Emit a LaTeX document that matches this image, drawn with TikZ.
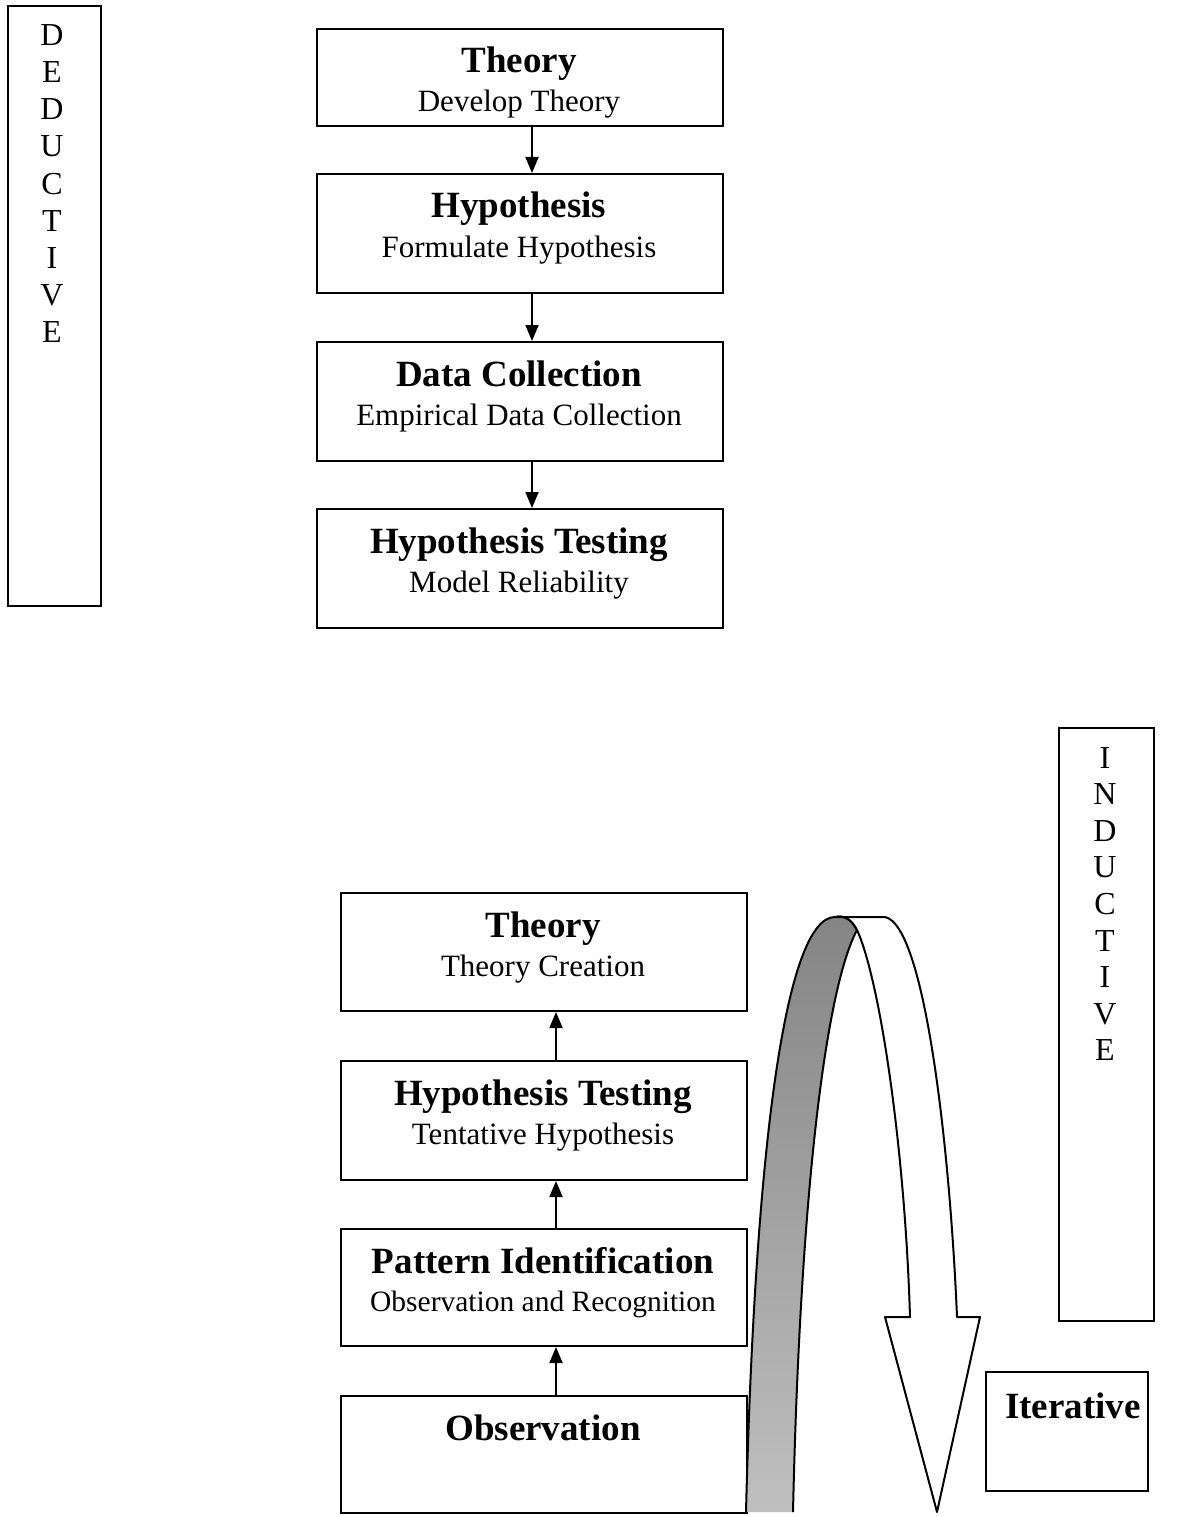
\documentclass[tikz,border=0pt]{standalone}
\usepackage{fontspec}
\setmainfont{Liberation Serif}
\usetikzlibrary{arrows.meta}
\begin{document}
\begin{tikzpicture}[x=1pt,y=-1pt,
  box/.style={draw,line width=2pt,anchor=north west,inner sep=0pt},
  ttl/.style={anchor=base,font=\bfseries\fontsize{37}{40}\selectfont},
  sub/.style={anchor=base,font=\fontsize{31}{34}\selectfont},
  vletter/.style={anchor=base,font=\fontsize{32}{36}\selectfont},
  arr/.style={line width=1.8pt,-{Triangle[length=16pt,width=13pt]}},
  ribbon/.style={line width=2pt,line join=round}]
\useasboundingbox (0,0) rectangle (1177,1517);

% side bars
\node[box,minimum width=93pt,minimum height=600pt] (dedbar) at (7,5) {};
\foreach \c [count=\i] in {D,E,D,U,C,T,I,V,E}
  \node[vletter] (ded\i) at (52,{46+37*(\i-1)}) {\c};
\node[box,minimum width=95pt,minimum height=593pt] (indbar) at (1058,727) {};
\foreach \c [count=\i] in {I,N,D,U,C,T,I,V,E}
  \node[vletter] (ind\i) at (1105,{768+36.6*(\i-1)}) {\c};

% deductive column
\node[box,minimum width=406pt,minimum height=97pt]  (dtheory) at (316,28) {};
\node[ttl] (dtheoryT) at (519,73) {Theory};
\node[sub] (dtheoryS) at (519,112) {Develop Theory};
\node[box,minimum width=406pt,minimum height=119pt] (dhyp) at (316,173) {};
\node[ttl] (dhypT) at (519,218) {Hypothesis};
\node[sub] (dhypS) at (519,257) {Formulate Hypothesis};
\node[box,minimum width=406pt,minimum height=119pt] (ddata) at (316,341) {};
\node[ttl] (ddataT) at (519,386) {Data Collection};
\node[sub] (ddataS) at (519,425) {Empirical Data Collection};
\node[box,minimum width=406pt,minimum height=119pt] (dtest) at (316,508) {};
\node[ttl] (dtestT) at (519,553) {Hypothesis Testing};
\node[sub] (dtestS) at (519,592) {Model Reliability};

\coordinate (ax) at (532,0);
\draw[arr] (dtheory.south -| ax) -- (dhyp.north -| ax);
\draw[arr] (dhyp.south -| ax) -- (ddata.north -| ax);
\draw[arr] (ddata.south -| ax) -- (dtest.north -| ax);

% inductive column
\node[box,minimum width=406pt,minimum height=118pt] (itheory) at (340,892) {};
\node[ttl] (itheoryT) at (543,937) {Theory};
\node[sub] (itheoryS) at (543,976) {Theory Creation};
\node[box,minimum width=406pt,minimum height=119pt] (itest) at (340,1060) {};
\node[ttl] (itestT) at (543,1105) {Hypothesis Testing};
\node[sub] (itestS) at (543,1144) {Tentative Hypothesis};
\node[box,minimum width=406pt,minimum height=117pt] (ipat) at (340,1228) {};
\node[ttl] (ipatT) at (543,1273) {Pattern Identification};
\node[sub,font=\fontsize{29.5}{33}\selectfont] (ipatS) at (543,1311) {Observation and Recognition};
\node[box,minimum width=406pt,minimum height=117pt] (iobs) at (340,1395) {};
\node[ttl] (iobsT) at (543,1440) {Observation};

\coordinate (bx) at (556,0);
\draw[arr] (iobs.north -| bx) -- (ipat.south -| bx);
\draw[arr] (ipat.north -| bx) -- (itest.south -| bx);
\draw[arr] (itest.north -| bx) -- (itheory.south -| bx);

% iterative loop: shaded back of the ribbon, then its white front with the head
\shade[top color=black!48,bottom color=black!25]
  (746,1512) .. controls (755,1150) and (785,917) .. (835,917)
  .. controls (845,915) and (852,920) .. (857,930)
  .. controls (825,990) and (800,1200) .. (793,1512) -- cycle;
\draw[ribbon]
  (746,1512) .. controls (755,1150) and (785,917) .. (835,917)
  .. controls (845,915) and (852,920) .. (857,930)
  .. controls (825,990) and (800,1200) .. (793,1512);
\draw[ribbon,fill=white]
  (835,917) -- (885,917) .. controls (925,925) and (950,1150) .. (957,1317)
  -- (980,1317) -- (937,1512) -- (885,1317) -- (910,1317)
  .. controls (905,1150) and (880,980) .. (857,930)
  .. controls (852,920) and (845,915) .. (835,917) -- cycle;

\node[box,minimum width=162pt,minimum height=119pt] (iter) at (985,1371) {};
\node[ttl] (iterT) at (1073,1418) {Iterative};
\end{tikzpicture}
\end{document}
